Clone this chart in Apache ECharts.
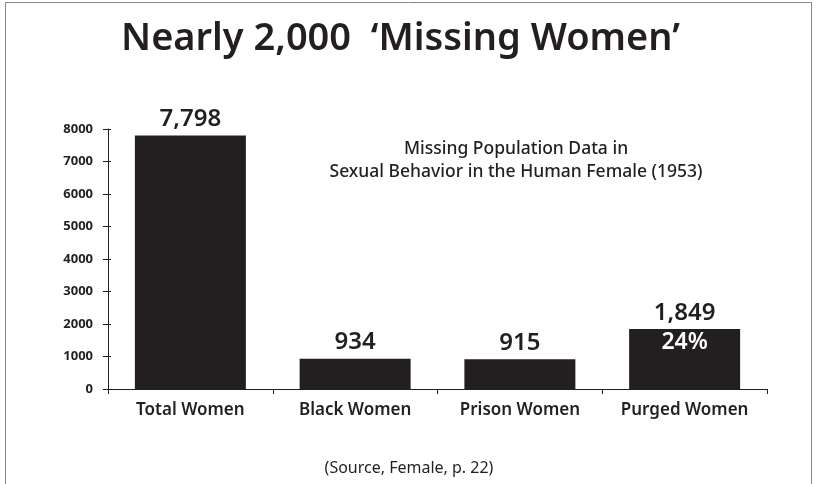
<!DOCTYPE html>
<html><head><meta charset="utf-8">
<script src="https://cdn.jsdelivr.net/npm/echarts@6/dist/echarts.min.js"></script>
<style>html,body{margin:0;padding:0;background:#fff}#c{width:818px;height:484px}</style>
</head><body><div id="c"></div>
<script>
const categories = ['Total Women', 'Black Women', 'Prison Women', 'Purged Women'];
const values = [7798, 934, 915, 1849];
const insideLabels = ['', '', '', '24%'];
const yTicks = [0, 1000, 2000, 3000, 4000, 5000, 6000, 7000, 8000];

const ink = '#231f20';
const font = 'Noto Sans';
const chart = echarts.init(document.getElementById('c'));
chart.setOption({
  animation: false,
  backgroundColor: '#fff',
  title: [
    { text: "Nearly 2,000  \u2018Missing Women\u2019", left: 121, top: 20, padding: 0,
      textStyle: { fontFamily: font, fontSize: 38, fontWeight: 600, color: ink } },
    { text: 'Missing Population Data in\nSexual Behavior in the Human Female (1953)', left: 511, top: 133, textAlign: 'center',
      textStyle: { fontFamily: font, fontSize: 17.5, fontWeight: 500, color: ink, lineHeight: 23 } },
    { text: '(Source, Female, p. 22)', left: 'center', top: 455,
      textStyle: { fontFamily: font, fontSize: 16, fontWeight: 'normal', color: ink } }
  ],
  graphic: [{ type: 'rect', shape: { x: 5.5, y: 2.5, width: 806, height: 500 }, style: { fill: 'none', stroke: '#888', lineWidth: 1 }, silent: true }],
  grid: { left: 108, right: 51, top: 129, bottom: 95, containLabel: false },
  xAxis: {
    type: 'category', data: categories,
    axisLine: { lineStyle: { color: ink, width: 1 } },
    axisTick: { show: true, alignWithLabel: false, length: 5, lineStyle: { color: ink } },
    axisLabel: { interval: 0, hideOverlap: false, fontFamily: font, fontSize: 17, fontWeight: 600, color: ink, margin: 13 }
  },
  yAxis: [
    { type: 'value', min: 0, max: 8000, interval: 1000,
      axisLine: { show: true, lineStyle: { color: ink } },
      axisTick: { show: true, length: 5, lineStyle: { color: ink } },
      splitLine: { show: false },
      axisLabel: { fontFamily: font, fontSize: 13, fontWeight: 'bold', color: ink, margin: 15,
        customValues: yTicks, formatter: v => String(v) } },
    { type: 'value', min: 0, max: 8000, interval: 1000, position: 'left',
      axisLine: { show: false },
      axisTick: { show: true, inside: true, length: 3, lineStyle: { color: ink } },
      splitLine: { show: false }, axisLabel: { show: false } }
  ],
  series: [
    { type: 'bar', data: values, barWidth: 111, itemStyle: { color: ink },
      label: { show: true, position: 'top', distance: 4, fontFamily: font, fontSize: 24, fontWeight: 600, color: ink,
        formatter: p => p.value.toLocaleString('en-US') } },
    { type: 'bar', data: values, barWidth: 111, barGap: '-100%', itemStyle: { color: 'rgba(0,0,0,0)' },
      label: { show: true, position: 'insideTop', distance: 2, fontFamily: font, fontSize: 23, fontWeight: 600, color: '#fff',
        formatter: p => insideLabels[p.dataIndex] } }
  ]
});
</script></body></html>
